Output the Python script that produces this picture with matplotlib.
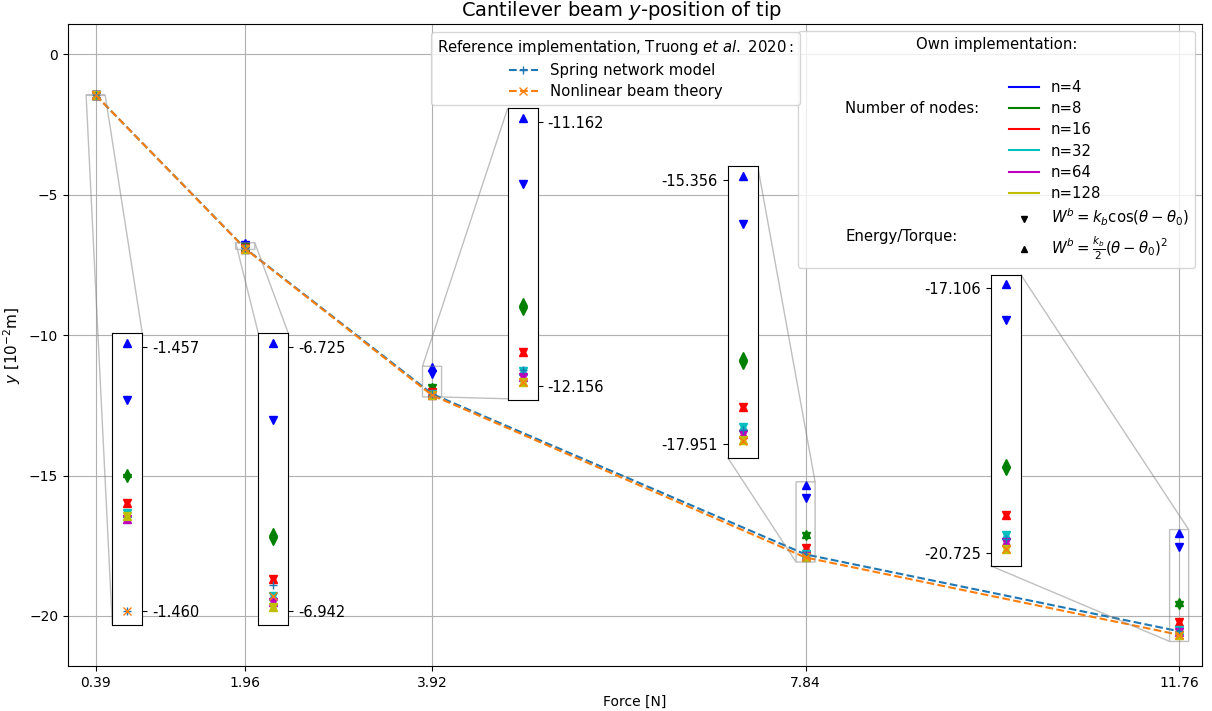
import matplotlib
matplotlib.use("Agg")
import matplotlib.pyplot as plt
from matplotlib.lines import Line2D

# ---------------- data ----------------
forces = [0.39, 1.96, 3.92, 7.84, 11.76]
force_labels = ["0.39", "1.96", "3.92", "7.84", "11.76"]

spring_network = [-1.4600, -6.9202, -12.095, -17.808, -20.543]
beam_theory = [-1.4600, -6.9297, -12.141, -17.918, -20.670]

node_counts = [4, 8, 16, 32, 64, 128]
node_colors = ["b", "g", "r", "c", "m", "y"]

# W^b = k_b cos(theta - theta0)   (down triangles)
cos_n4 = [-1.45760, -6.7856, -11.3961, -15.790, -17.5533]
cos_n8 = [-1.45849, -6.8847, -11.8743, -17.1686, -19.607]
cos_n16 = [-1.45877, -6.9155, -12.0283, -17.5827, -20.214]
cos_n32 = [-1.45889, -6.9291, -12.0972, -17.7782, -20.488]
cos_n64 = [-1.45895, -6.9346, -12.1220, -17.853, -20.579]
cos_n128 = [-1.45892, -6.9385, -12.1410, -17.909, -20.670]

# W^b = k_b/2 (theta - theta0)^2   (up triangles)
quad_n4 = [-1.45696, -6.7223, -11.1482, -15.3233, -17.0513]
quad_n8 = [-1.45843, -6.8770, -11.8405, -17.0838, -19.502]
quad_n16 = [-1.45877, -6.9155, -12.0283, -17.5827, -20.214]
quad_n32 = [-1.45889, -6.9291, -12.0972, -17.7782, -20.488]
quad_n64 = [-1.45895, -6.9346, -12.1220, -17.853, -20.579]
quad_n128 = [-1.45892, -6.9385, -12.1410, -17.909, -20.670]

cos_series = [cos_n4, cos_n8, cos_n16, cos_n32, cos_n64, cos_n128]
quad_series = [quad_n4, quad_n8, quad_n16, quad_n32, quad_n64, quad_n128]

# inset tick labels (upper / lower)
inset_tick_hi = [-1.457, -6.725, -11.162, -15.356, -17.106]
inset_tick_lo = [-1.460, -6.942, -12.156, -17.951, -20.725]

y_ticks = [0, -5, -10, -15, -20]

# ---------------- figure ----------------
W, H = 1212, 711
fig = plt.figure(figsize=(W / 100, H / 100), dpi=100)
ax_l, ax_r, ax_t, ax_b = 68, 1202, 24, 666
ax = fig.add_axes([ax_l / W, (H - ax_b) / H, (ax_r - ax_l) / W, (ax_b - ax_t) / H])


def draw_data(a, ref_ls):
    for col, cs, qs in zip(node_colors, cos_series, quad_series):
        a.plot(forces, cs, linestyle="none", marker="v", color=col)
        a.plot(forces, qs, linestyle="none", marker="^", color=col)
    a.plot(forces, spring_network, linestyle=ref_ls, marker="+", color="tab:blue")
    a.plot(forces, beam_theory, linestyle=ref_ls, marker="x", color="tab:orange")


draw_data(ax, "--")

ax.set_xlim(0.1, 12.0)
ax.set_ylim(-21.78, 1.07)
ax.set_xticks(forces)
ax.set_xticklabels(force_labels)
ax.set_yticks(y_ticks)
ax.grid(True)
ax.set_xlabel("Force [N]")
ax.set_ylabel(r"$y$ [10$^{-2}$m]", fontsize=11)
ax.set_title(r"Cantilever beam $y$-position of tip", fontsize=14, x=0.488)

# inset positions in pixels (left, top, right, bottom) and tick side
inset_px = [
    (112.3, 333.3, 142.3, 624.6, "right"),
    (258.3, 333.3, 288.3, 624.6, "right"),
    (507.7, 108.3, 537.7, 399.6, "right"),
    (727.7, 166.3, 757.7, 457.6, "left"),
    (990.7, 274.5, 1020.7, 565.8, "left"),
]
aw = ax_r - ax_l
ah = ax_b - ax_t
for i, (l, t, r, b, side) in enumerate(inset_px):
    bounds = [(l - ax_l) / aw, (ax_b - b) / ah, (r - l) / aw, (b - t) / ah]
    axins = ax.inset_axes(bounds)
    draw_data(axins, "none")
    f = forces[i]
    hi, lo = inset_tick_hi[i], inset_tick_lo[i]
    pad = 0.05 * (hi - lo)
    axins.set_xlim(f - 0.1, f + 0.1)
    axins.set_ylim(lo - pad, hi + pad)
    axins.set_xticks([])
    axins.set_yticks([lo, hi])
    axins.set_yticklabels([f"{lo:.3f}", f"{hi:.3f}"], fontsize=10.5)
    if side == "right":
        axins.yaxis.tick_right()
    else:
        axins.yaxis.tick_left()
    ax.indicate_inset_zoom(axins)

# ---------------- legends ----------------
ref_handles = [
    Line2D([], [], linestyle="--", marker="+", color="tab:blue"),
    Line2D([], [], linestyle="--", marker="x", color="tab:orange"),
]
ref_labels = ["Spring network model", "Nonlinear beam theory"]

blank = Line2D([], [], linestyle="none", marker=None)
col1_labels = ["", "", "Number of nodes:", "", "", "", "", "", "Energy/Torque:"]
col1_handles = [blank] * len(col1_labels)
col2_handles = [blank] + [Line2D([], [], color=c) for c in node_colors] + [
    Line2D([], [], linestyle="none", marker="v", color="k", markersize=5),
    Line2D([], [], linestyle="none", marker="^", color="k", markersize=5),
]
col2_labels = [""] + [f"n={n}" for n in node_counts] + [
    r"$W^b = k_b\cos(\theta-\theta_0)$",
    r"$W^b = \frac{k_b}{2}(\theta-\theta_0)^2$",
]

LFS = 10.7
leg2 = ax.legend(col1_handles + col2_handles, col1_labels + col2_labels,
                 ncol=2, loc="upper right", title="Own implementation:",
                 fontsize=LFS, title_fontsize=LFS, labelspacing=0.42)
ax.add_artist(leg2)

leg1 = ax.legend(ref_handles, ref_labels, loc="upper right",
                 bbox_to_anchor=((800 - ax_l) / aw, (ax_b - 32) / ah),
                 borderaxespad=0, fontsize=LFS, title_fontsize=LFS,
                 labelspacing=0.42,
                 title=r"Reference implementation, Truong $\it{et\ al}.$ 2020$:$")

fig.savefig("out.png", dpi=100)
